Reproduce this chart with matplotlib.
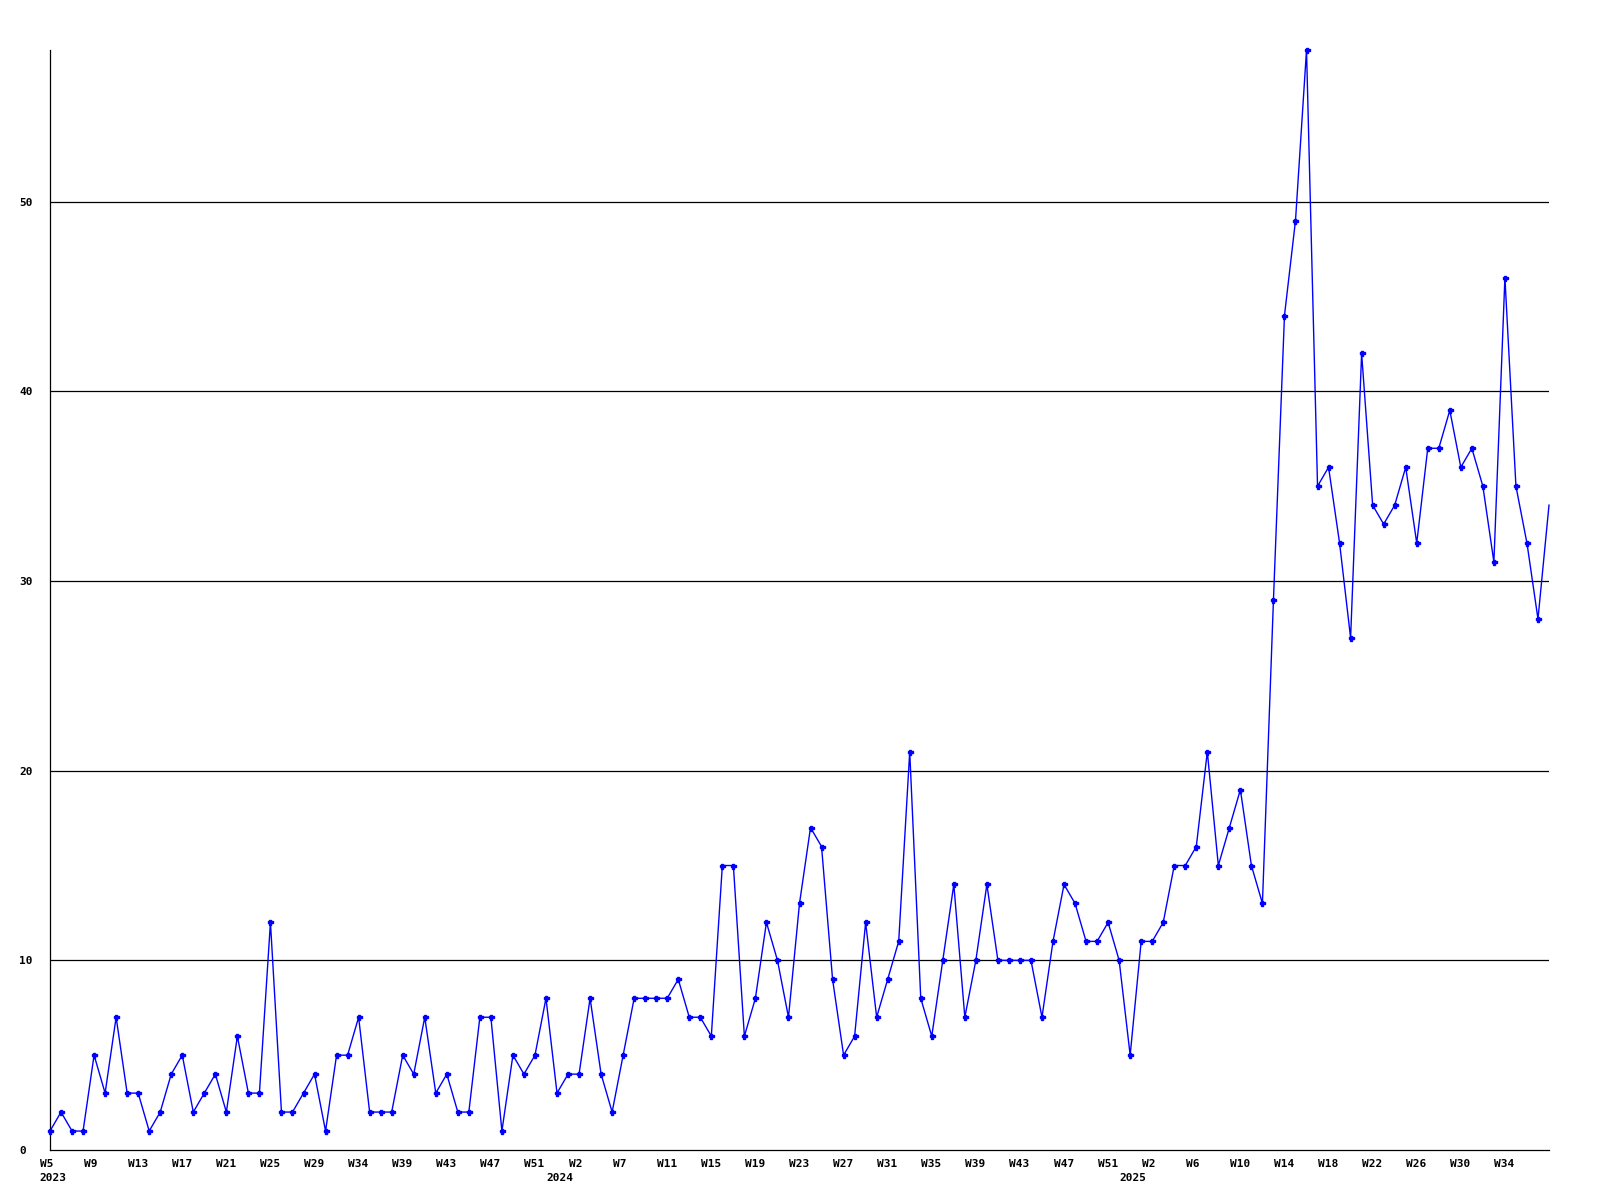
"""
plot.py
=======
Weekly counts, 2023 W5 to 2025 W38: one blue line with point markers,
plain black horizontal grid, week and year labels under the axis.
"""

import matplotlib
matplotlib.use("Agg")
import matplotlib.pyplot as plt
import matplotlib.transforms as mtransforms
import numpy as np

# ---------------------------------------------------------------------------
# Data
# ---------------------------------------------------------------------------
counts = [
    # 2023
    1, 2, 1, 1, 5, 3, 7, 3, 3, 1, 2, 4, 5, 2, 3, 4, 2, 6, 3, 3, 12, 2, 2, 3,
    4, 1, 5, 5, 7, 2, 2, 2, 5, 4, 7, 3, 4, 2, 2, 7, 7, 1, 5, 4, 5, 8,
    # 2024
    3, 4, 4, 8, 4, 2, 5, 8, 8, 8, 8, 9, 7, 7, 6, 15, 15, 6, 8, 12, 10, 7, 13,
    17, 16, 9, 5, 6, 12, 7, 9, 11, 21, 8, 6, 10, 14, 7, 10, 14, 10, 10, 10,
    10, 7, 11, 14, 13, 11, 11, 12, 10,
    # 2025
    5, 11, 11, 12, 15, 15, 16, 21, 15, 17, 19, 15, 13, 29, 44, 49, 58, 35, 36,
    32, 27, 42, 34, 33, 34, 36, 32, 37, 37, 39, 36, 37, 35, 31, 46, 35, 32,
    28, 34,
]

week_labels = [
    "W5", "W9", "W13", "W17", "W21", "W25", "W29", "W34", "W39", "W43",
    "W47", "W51",
    "W2", "W7", "W11", "W15", "W19", "W23", "W27", "W31", "W35", "W39",
    "W43", "W47", "W51",
    "W2", "W6", "W10", "W14", "W18", "W22", "W26", "W30", "W34",
]
week_step = 4

year_labels = ["2023", "2024", "2025"]
year_index = [0, 46, 98]

y_ticks = [0, 10, 20, 30, 40, 50]

# ---------------------------------------------------------------------------
# Style
# ---------------------------------------------------------------------------
plt.rcParams.update({
    "font.family": "DejaVu Sans Mono",
    "font.weight": "bold",
    "font.size": 8,
})

BLUE = "#0000ff"

# ---------------------------------------------------------------------------
# Plot
# ---------------------------------------------------------------------------
fig = plt.figure(figsize=(16, 12), dpi=100)
ax = fig.add_axes([50 / 1600, 50 / 1200, 1499 / 1600, 1100 / 1200])

x = np.arange(len(counts))
ax.plot(x, counts, color=BLUE, linewidth=1.0, marker="P", markersize=3.6,
        markevery=list(range(len(counts) - 1)), clip_on=False, zorder=3)

for yv in y_ticks[1:]:
    ax.axhline(yv, color="black", linewidth=0.9, zorder=1)

ax.set_xlim(0, len(counts) - 1)
ax.set_ylim(0, 58)

for side in ("top", "right"):
    ax.spines[side].set_visible(False)
for side in ("left", "bottom"):
    ax.spines[side].set_linewidth(0.9)

# y labels: left aligned, well off the axis
ax.set_yticks(y_ticks)
ax.set_yticklabels([str(v) for v in y_ticks])
ax.tick_params(axis="y", length=0, pad=22.3)
for lab in ax.get_yticklabels():
    lab.set_horizontalalignment("left")

# week labels every 4 points, nudged left of their point
ax.set_xticks(x[::week_step][:len(week_labels)])
ax.set_xticklabels(week_labels)
ax.tick_params(axis="x", length=0, pad=6.5)
shift = mtransforms.ScaledTranslation(-10.5 / 100, 0, fig.dpi_scale_trans)
for lab in ax.get_xticklabels():
    lab.set_horizontalalignment("left")
    lab.set_transform(lab.get_transform() + shift)

# year labels on a second row
year_trans = ax.get_xaxis_transform() + mtransforms.ScaledTranslation(
    -10.5 / 100, -23 / 100, fig.dpi_scale_trans)
for yr, idx in zip(year_labels, year_index):
    ax.text(idx, 0, yr, transform=year_trans, ha="left", va="top")

fig.patch.set_facecolor("white")
ax.set_facecolor("white")

fig.savefig("out.png", dpi=100)
plt.close(fig)
